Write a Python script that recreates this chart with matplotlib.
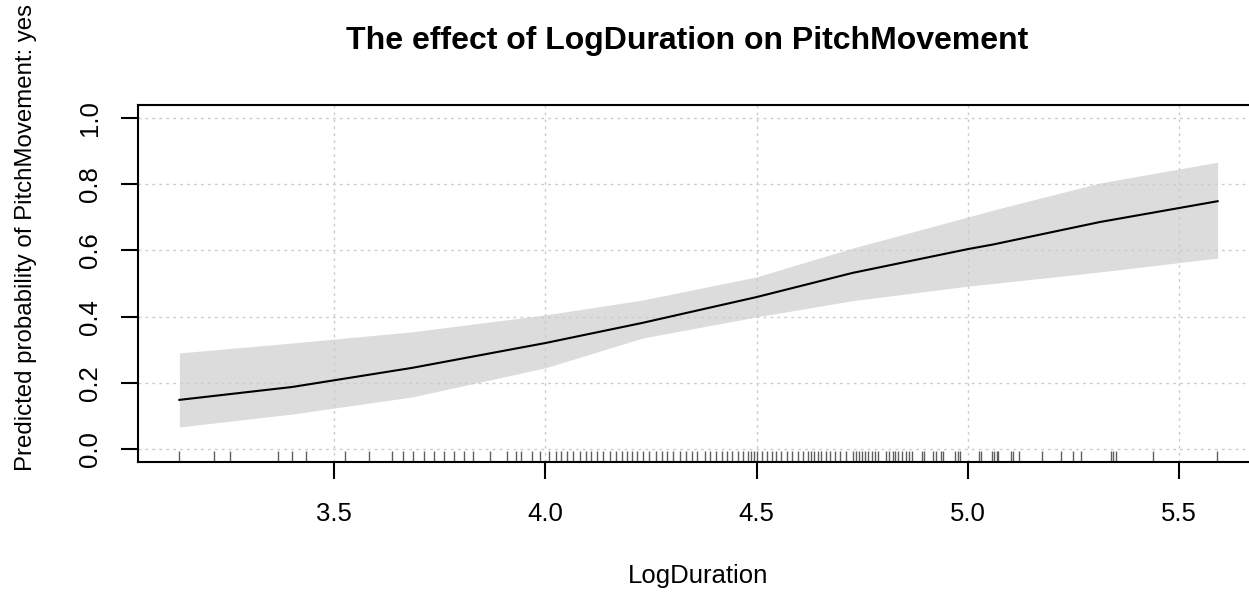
import numpy as np
import matplotlib
matplotlib.use('Agg')
import matplotlib.pyplot as plt
import matplotlib.transforms as mtransforms

plt.rcParams['font.family'] = ['Liberation Sans', 'DejaVu Sans']

# Effect curve
log_dur = [3.133, 3.40, 3.685, 4.00, 4.23, 4.50, 4.727, 5.00, 5.06, 5.313, 5.592]
fit     = [0.148, 0.187, 0.245, 0.320, 0.381, 0.459, 0.532, 0.604, 0.618, 0.686, 0.749]
upper   = [0.290, 0.320, 0.354, 0.405, 0.450, 0.520, 0.607, 0.701, 0.722, 0.804, 0.867]
lower   = [0.066, 0.105, 0.157, 0.245, 0.335, 0.399, 0.448, 0.492, 0.500, 0.535, 0.577]

# Observed LogDuration values (rug)
rug_x = [3.133, 3.216, 3.254, 3.366, 3.399, 3.432, 3.525, 3.581, 3.636, 3.662,
         3.687, 3.712, 3.735, 3.759, 3.783, 3.806, 3.828, 3.869, 3.910, 3.931,
         3.942, 3.969, 3.986, 4.009, 4.024, 4.038, 4.052, 4.066, 4.081, 4.095,
         4.109, 4.123, 4.137, 4.152, 4.168, 4.182, 4.194, 4.204, 4.218, 4.230,
         4.246, 4.261, 4.275, 4.289, 4.303, 4.318, 4.332, 4.348, 4.360, 4.377,
         4.389, 4.403, 4.417, 4.431, 4.443, 4.457, 4.469, 4.479, 4.488, 4.495,
         4.502, 4.514, 4.524, 4.536, 4.547, 4.559, 4.571, 4.583, 4.597, 4.609,
         4.621, 4.630, 4.637, 4.645, 4.652, 4.664, 4.673, 4.685, 4.697, 4.713,
         4.728, 4.735, 4.742, 4.749, 4.756, 4.763, 4.773, 4.780, 4.787, 4.806,
         4.813, 4.822, 4.829, 4.836, 4.844, 4.853, 4.860, 4.867, 4.891, 4.896,
         4.917, 4.924, 4.936, 4.941, 4.969, 4.976, 4.983, 5.026, 5.031, 5.057,
         5.062, 5.069, 5.073, 5.102, 5.107, 5.121, 5.175, 5.220, 5.249, 5.268,
         5.339, 5.344, 5.351, 5.438, 5.590]

x_ticks = [3.5, 4.0, 4.5, 5.0, 5.5]
y_ticks = [0.0, 0.2, 0.4, 0.6, 0.8, 1.0]

fig = plt.figure(figsize=(12.49, 5.94), dpi=100)
ax = fig.add_axes([0.1105, 0.2222, 0.8975, 0.601])

ax.fill_between(log_dur, lower, upper, color='#dcdcdc', lw=0, zorder=1)
ax.plot(log_dur, fit, color='black', lw=1.5, zorder=3)

trans = mtransforms.blended_transform_factory(ax.transData, ax.transAxes)
ax.vlines(rug_x, 0, 0.03, transform=trans, color='#606060', lw=1, zorder=2)

ax.set_xlim(3.035, 5.69)
ax.set_ylim(-0.04, 1.04)
ax.set_xticks(x_ticks)
ax.set_yticks(y_ticks)
ax.set_xticklabels([f'{v:.1f}' for v in x_ticks])
ax.set_yticklabels([f'{v:.1f}' for v in y_ticks])
ax.grid(True, color='#cccccc', linestyle=(0, (2, 3)), lw=1, zorder=0)

for s in ax.spines.values():
    s.set_linewidth(1.5)
ax.tick_params(axis='both', direction='out', length=12, width=1.5, labelsize=18.5)
ax.tick_params(axis='x', pad=17)
ax.tick_params(axis='y', pad=14, labelrotation=90)
for lab in ax.get_yticklabels():
    lab.set_va('center')

ax.set_xlabel('LogDuration', fontsize=18.5, labelpad=27)
ax.set_ylabel('Predicted probability of PitchMovement: yes', fontsize=17.3)
ax.yaxis.set_label_coords(-0.090, 0.63)
ax.set_title('The effect of LogDuration on PitchMovement', fontsize=23,
             fontweight='bold', pad=40, x=0.49)

fig.savefig('out.png', dpi=100)
